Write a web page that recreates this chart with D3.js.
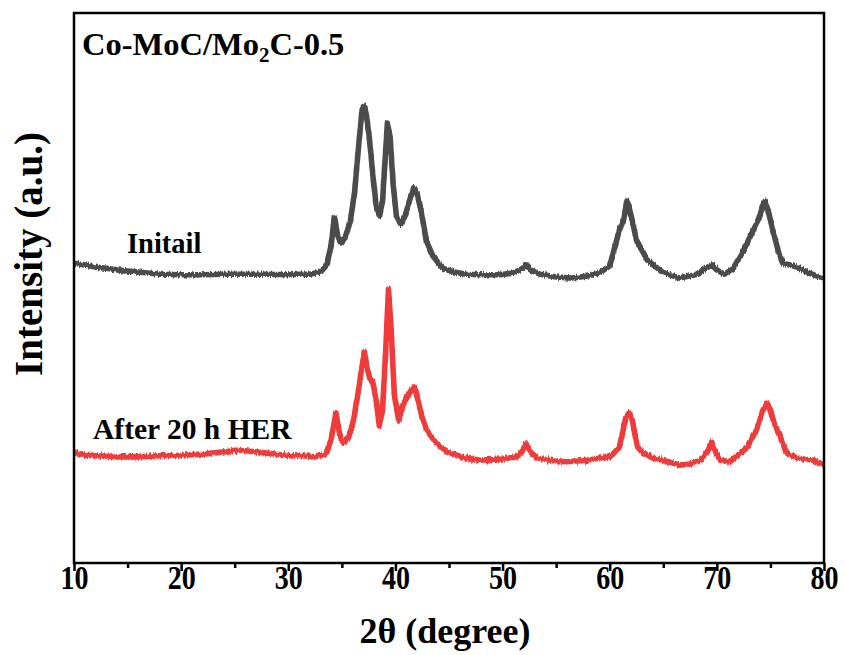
<!DOCTYPE html>
<html>
<head>
<meta charset="utf-8">
<script src="https://cdn.jsdelivr.net/npm/d3@7"></script>
<style>
  html, body { margin: 0; padding: 0; background: #fff; }
  svg { display: block; }
  text { font-family: "Liberation Serif", "Times New Roman", serif; font-weight: bold; fill: #000; }
</style>
</head>
<body>
<svg id="chart" width="845" height="655"></svg>
<script>
// XRD patterns of Co-MoC/Mo2C-0.5, 2θ in degrees vs. intensity (a.u., stacked)
const twoThetaInitial = [10,11,12,13,14,15,16,18,20,22,24,26,28,30,31,32,33,33.6,34.0,34.3,34.6,34.9,35.3,35.8,36.2,36.6,36.9,37.1,37.3,37.6,37.9,38.2,38.5,38.8,39.0,39.25,39.5,39.8,40.1,40.5,40.9,41.3,41.7,42.0,42.4,42.9,43.5,44.4,45.5,46.6,48,49.7,51,51.8,52.2,52.6,53.5,55,56.5,58,59,60,60.3,60.9,61.3,61.6,61.9,62.5,63.5,64.9,66.5,68,69,69.5,70,70.7,71.5,72.4,73.4,73.9,74.3,74.5,74.8,75.2,75.8,76.2,77.5,78.4,79.3,80];
const intensityInitial = [545,542,538,536,533,531,529,525,524,524,525,525,525,524,525,525,529,542,578,629,596,582,591,622,676,767,825,831,813,767,704,649,631,658,722,800,775,686,631,616,631,658,682,673,640,585,558,536,529,525,524,524,527,535,542,533,525,520,518,522,527,540,562,605,624,658,640,587,551,529,518,524,536,542,533,525,535,565,605,624,651,658,640,607,562,545,538,529,522,518];

const twoThetaAfter = [10,11,12,14,16,18,20,22,24,25,26,28,30,31.3,32.5,33.5,34.0,34.45,34.8,35.1,35.6,36.0,36.4,36.8,37.1,37.3,37.6,37.9,38.2,38.5,38.8,39.1,39.35,39.6,39.9,40.3,40.7,41.1,41.5,41.8,42.1,42.5,42.9,43.8,45,46.5,48,50,51.3,51.8,52.2,52.6,53.2,55,56,58,59,60,60.3,60.9,61.5,61.8,62.1,62.6,63,64,65.5,66.5,67.5,68.5,69.2,69.5,69.8,70.3,71.2,72.8,73.7,74.3,74.7,75.0,75.4,75.8,76.5,77.5,79,80];
const intensityAfter = [202,196,195,193,193,195,196,198,202,205,204,200,195,195,193,198,224,273,233,218,227,251,296,347,384,360,336,329,296,249,280,389,498,425,305,260,287,302,315,320,296,264,242,218,200,191,187,189,193,202,218,202,191,185,184,187,191,193,198,211,264,273,260,211,202,191,184,178,180,187,205,220,205,187,184,209,242,278,291,278,251,236,200,191,187,178];

const xTicks = [10, 20, 30, 40, 50, 60, 70, 80];
const xMinorTicks = [15, 25, 35, 45, 55, 65, 75];
const seriesColors = ["#4b4b4b", "#f03a3a"];

const svg = d3.select("#chart");
const margin = { left: 74, top: 13, right: 21, bottom: 92 };
const W = 845, H = 655;
const x = d3.scaleLinear().domain([10, 80]).range([margin.left, W - margin.right]);
const y = d3.scaleLinear().domain([0, 1000]).range([H - margin.bottom, margin.top]);

// rough texture for the measured (noisy) traces: vertical jitter only
const defs = svg.append("defs");
const rough = defs.append("filter").attr("id", "rough")
  .attr("x", "-2%").attr("y", "-10%").attr("width", "104%").attr("height", "120%");
rough.append("feTurbulence").attr("type", "fractalNoise")
  .attr("baseFrequency", "0.7 0.1").attr("numOctaves", 1).attr("seed", 3).attr("result", "noise");
rough.append("feColorMatrix").attr("in", "noise").attr("type", "matrix")
  .attr("values", "0 0 0 0 0.5  0 1 0 0 0  0 0 0 0 0  0 0 0 0 1").attr("result", "vnoise");
rough.append("feDisplacementMap").attr("in", "SourceGraphic").attr("in2", "vnoise")
  .attr("scale", 6).attr("xChannelSelector", "R").attr("yChannelSelector", "G");

const line = d3.line().x(d => x(d[0])).y(d => y(d[1]));

function draw(xs, ys, color) {
  const pts = xs.map((t, i) => [t, ys[i]]);
  svg.append("path")
    .datum(pts)
    .attr("fill", "none")
    .attr("stroke", color)
    .attr("stroke-width", 5.6)
    .attr("stroke-linejoin", "round")
    .attr("filter", "url(#rough)")
    .attr("d", line);
}
draw(twoThetaInitial, intensityInitial, seriesColors[0]);
draw(twoThetaAfter, intensityAfter, seriesColors[1]);

// frame
svg.append("rect")
  .attr("x", x(10)).attr("y", y(1000))
  .attr("width", x(80) - x(10)).attr("height", y(0) - y(1000))
  .attr("fill", "none").attr("stroke", "#000").attr("stroke-width", 2.5);

// x axis: major ticks with labels, minor ticks between
const gx = svg.append("g").attr("transform", `translate(0,${y(0)})`)
  .call(d3.axisBottom(x).tickValues(xTicks).tickSize(8).tickFormat(d3.format("d")));
gx.select(".domain").remove();
gx.selectAll(".tick line").attr("stroke", "#000").attr("stroke-width", 2.5);
gx.selectAll(".tick text")
  .attr("y", 26)
  .attr("dy", null)
  .attr("transform", "scale(0.85,1)")
  .style("font-family", '"Liberation Serif", serif')
  .style("font-weight", "bold")
  .style("font-size", "33px")
  .attr("fill", "#000");
const gxm = svg.append("g").attr("transform", `translate(0,${y(0)})`)
  .call(d3.axisBottom(x).tickValues(xMinorTicks).tickSize(5).tickFormat(""));
gxm.select(".domain").remove();
gxm.selectAll(".tick line").attr("stroke", "#000").attr("stroke-width", 2.5);

// axis titles
svg.append("text")
  .attr("x", 445).attr("y", 643)
  .attr("text-anchor", "middle")
  .style("font-size", "36px")
  .text("2θ (degree)");
svg.append("text")
  .attr("transform", "translate(42,254) rotate(-90)")
  .attr("text-anchor", "middle")
  .style("font-size", "39px")
  .text("Intensity (a.u.)");

// sample name
const title = svg.append("text").attr("x", 82).attr("y", 55).style("font-size", "32.5px");
title.append("tspan").text("Co-MoC/Mo");
title.append("tspan").attr("dy", 7).style("font-size", "21px").text("2");
title.append("tspan").attr("dy", -7).text("C-0.5");

// curve labels
svg.append("text").attr("x", 127).attr("y", 253).style("font-size", "28.5px").text("Initail");
svg.append("text").attr("x", 93).attr("y", 439).style("font-size", "29.5px").text("After 20 h HER");
</script>
</body>
</html>
